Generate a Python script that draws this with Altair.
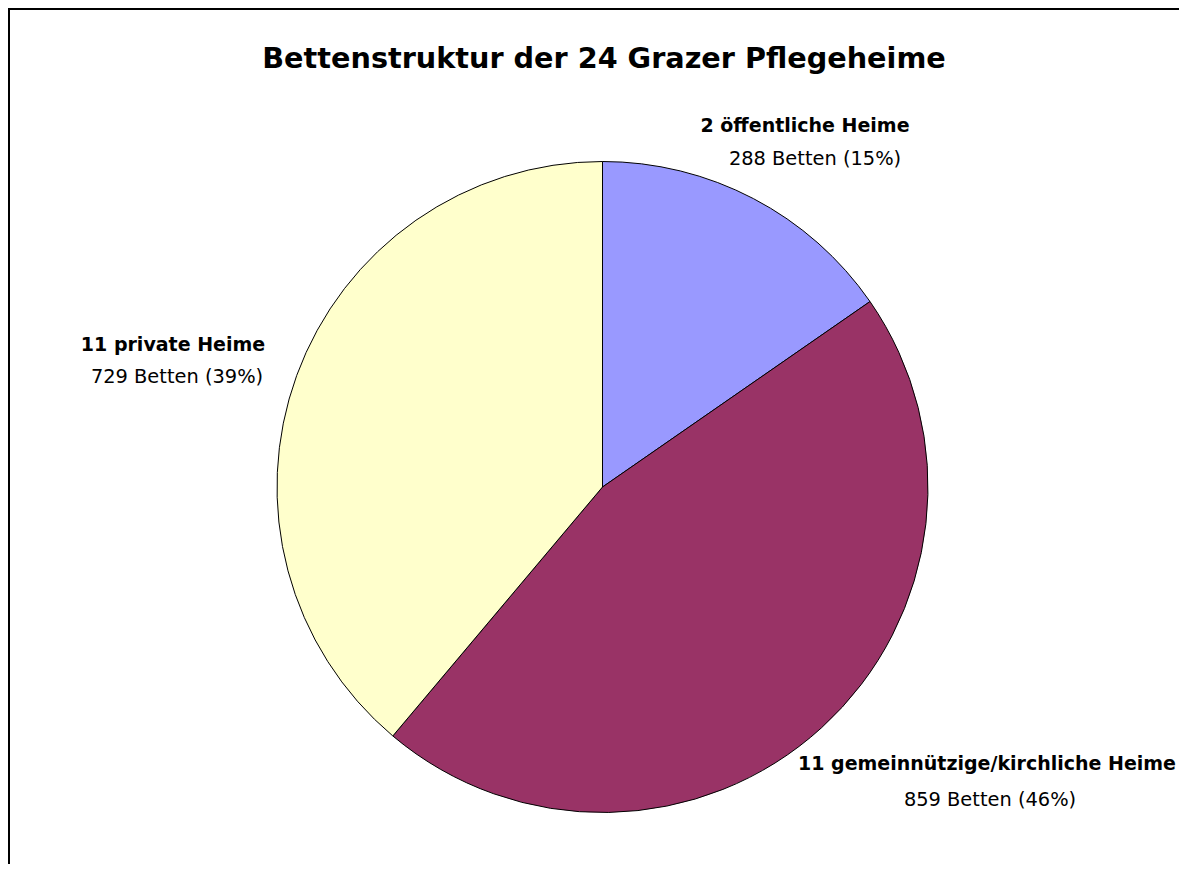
import altair as alt
import pandas as pd

# ---- data ----
categories = ["2 öffentliche Heime", "11 gemeinnützige/kirchliche Heime", "11 private Heime"]
betten = [288, 859, 729]
prozent = [15, 46, 39]
colors = ["#9999FF", "#993366", "#FFFFCC"]
title_text = "Bettenstruktur der 24 Grazer Pflegeheime"

# ---- layout (annotation placement, chart pixels) ----
W, H = 1171, 856
CX, CY, R = 594.5, 479, 325.5
label_x_bold = [797, 979, 165]
label_y_bold = [124, 762, 343]
label_x_reg = [807, 982, 169]
label_y_reg = [157, 798, 375]
FONT = "DejaVu Sans"

df = pd.DataFrame({
    "kategorie": categories,
    "betten": betten,
    "ord": list(range(len(categories))),
    "detail": [f"{b} Betten ({p}%)" for b, p in zip(betten, prozent)],
    "bx": label_x_bold, "by": label_y_bold,
    "rx": label_x_reg, "ry": label_y_reg,
})

base = alt.Chart(df)

pie = base.mark_arc(outerRadius=R, stroke="black", strokeWidth=1).encode(
    theta=alt.Theta("betten:Q", stack=True),
    order=alt.Order("ord:Q"),
    color=alt.Color("kategorie:N", scale=alt.Scale(domain=categories, range=colors), legend=None),
    x=alt.value(CX),
    y=alt.value(CY),
)

bold_labels = base.mark_text(font=FONT, fontSize=19.0, fontWeight="bold", align="center", baseline="alphabetic", color="black").encode(
    x=alt.X("bx:Q", scale=None, axis=None),
    y=alt.Y("by:Q", scale=None, axis=None),
    text="kategorie:N",
)

reg_labels = base.mark_text(font=FONT, fontSize=19.4, align="center", baseline="alphabetic", color="black").encode(
    x=alt.X("rx:Q", scale=None, axis=None),
    y=alt.Y("ry:Q", scale=None, axis=None),
    text="detail:N",
)

title = alt.Chart(pd.DataFrame({"t": [title_text]})).mark_text(
    font=FONT, fontSize=28.7, fontWeight="bold", align="center", baseline="alphabetic", color="black"
).encode(x=alt.value(596), y=alt.value(60), text="t:N")

frame_top = alt.Chart(pd.DataFrame({"a": [0]})).mark_rule(color="black", strokeWidth=2).encode(
    x=alt.value(0), x2=alt.value(W), y=alt.value(1)
)
frame_left = alt.Chart(pd.DataFrame({"a": [0]})).mark_rule(color="black", strokeWidth=2).encode(
    x=alt.value(1), y=alt.value(0), y2=alt.value(H)
)

chart = alt.layer(pie, bold_labels, reg_labels, title, frame_top, frame_left).properties(
    width=W, height=H, padding=0,
    autosize=alt.AutoSizeParams(type="none"),
    background="white",
).configure_view(strokeWidth=0)

chart.save("out.html", embed_options={"renderer": "svg", "actions": False})
